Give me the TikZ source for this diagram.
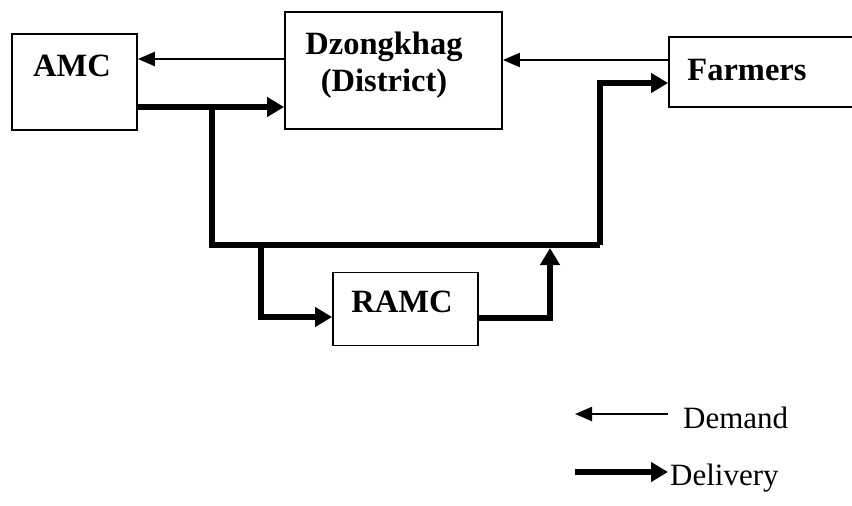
\documentclass[tikz,border=0pt]{standalone}
\usepackage{fontspec}
\setmainfont{Liberation Serif}
\usetikzlibrary{arrows.meta}
\begin{document}
\begin{tikzpicture}[x=1pt,y=-1pt,
  box/.style={draw,line width=1.8pt,rectangle,inner sep=0pt},
  lbl/.style={font=\fontsize{32.5}{37}\selectfont\bfseries,align=center,inner sep=0pt},
  legtxt/.style={font=\fontsize{31}{35}\selectfont,inner sep=0pt,anchor=base west},
  demand/.style={line width=2.3pt,-{Triangle[length=17pt,width=14pt]}},
  delivery/.style={line width=5.5pt,line join=miter,-{Triangle[length=17pt,width=19pt]}},
  trunk/.style={line width=5.5pt,line join=miter}]
\useasboundingbox (0,0) rectangle (852,506);

% boxes
\node[box,minimum width=125pt,minimum height=96pt] (amc) at (74.5,82) {};
\node[box,minimum width=217pt,minimum height=117pt] (dz) at (393.5,70.5) {};
\node[box,minimum width=200pt,minimum height=70pt] (far) at (769,72) {};
\node[box,minimum width=145pt,minimum height=73pt] (ramc) at (405.5,309) {};

% labels
\node[lbl] (amct) at (72,66) {AMC};
\node[lbl] (dzt) at (384,65) {Dzongkhag\\(District)};
\node[lbl] (fart) at (747,70) {Farmers};
\node[lbl] (ramct) at (402,302) {RAMC};

% demand flows
\draw[demand] (dz.west|-0,59) -- (amc.east|-0,59);
\draw[demand] (far.west|-0,60) -- (dz.east|-0,60);

% delivery flows
\coordinate (split) at (212,107);
\coordinate (low) at (212,245);
\coordinate (rise) at (600,245);
\coordinate (fork) at (261,245);
\coordinate (join) at (550,248);
\draw[delivery] (amc.east|-split) -- (dz.west|-split);
\draw[trunk] (split) -- (low) -- (rise);
\draw[delivery] (rise) -- (600,83) -- (far.west|-0,83);
\draw[delivery] (fork) -- (261,317) -- (ramc.west|-0,317);
\draw[delivery] (ramc.east|-0,318) -- (550,318) -- (join);

% legend
\coordinate (d1) at (668,414);
\coordinate (d2) at (575,414);
\coordinate (v1) at (575,472);
\coordinate (v2) at (668,472);
\draw[demand] (d1) -- (d2);
\draw[delivery] (v1) -- (v2);
\node[legtxt] (dl) at (683,428) {Demand};
\node[legtxt] (vl) at (670,485) {Delivery};
\end{tikzpicture}
\end{document}
